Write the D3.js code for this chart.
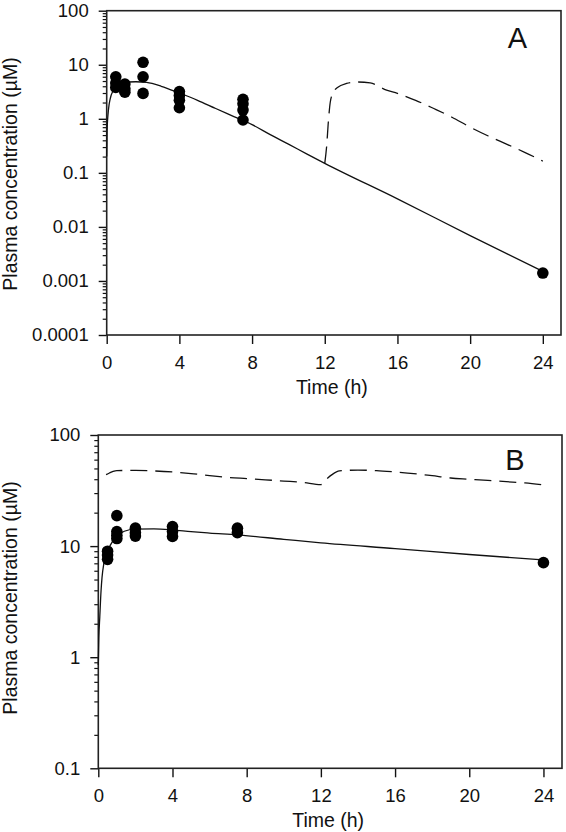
<!DOCTYPE html>
<html>
<head>
<meta charset="utf-8">
<script src="https://cdn.jsdelivr.net/npm/d3@7"></script>
<style>
  html, body { margin: 0; padding: 0; background: #fff; }
  svg { display: block; }
  text { font-family: "Liberation Sans", Arial, sans-serif; fill: #111; }
</style>
</head>
<body>
<svg id="chart" width="566" height="832"></svg>
<script>
// ---------- Data ----------
const xTicks = [0, 4, 8, 12, 16, 20, 24];
const yTicksA = [0.0001, 0.001, 0.01, 0.1, 1, 10, 100];
const yTicksB = [0.1, 1, 10, 100];
const xLabel = "Time (h)";
const yLabel = "Plasma concentration (\u00B5M)";

// Panel A observed points
const obsTimeA  = [0.5, 0.5, 0.5, 1, 1, 1, 2, 2, 2, 4, 4, 4, 4, 7.5, 7.5, 7.5, 7.5, 24];
const obsValueA = [6.0, 4.6, 3.8, 4.4, 3.6, 3.1, 11.1, 6.0, 2.95, 3.2, 2.7, 2.2, 1.6, 2.3, 1.9, 1.45, 0.95, 0.0014];

// Panel A model (solid: single dose)
const solidTimeA  = [0, 0.02, 0.1, 0.2, 0.35, 0.5, 0.8, 1.2, 1.6, 2.2, 3, 4, 5, 6, 7, 8, 9, 10, 11, 12, 16, 20, 24];
const solidValueA = [0.2, 0.6, 1.5, 2.4, 3.3, 3.9, 4.5, 4.8, 4.85, 4.7, 4.0, 3.0, 2.2, 1.55, 1.1, 0.78, 0.51, 0.34, 0.225, 0.15, 0.033, 0.0069, 0.0015];

// Panel A model (dashed: second dose at 12 h)
const dashTimeA  = [12, 12.1, 12.2, 12.3, 12.45, 12.7, 13.2, 13.8, 14.5, 15.4, 16, 17, 18, 19, 20, 21, 22, 23, 24];
const dashValueA = [0.15, 0.3, 0.9, 2.0, 3.0, 3.8, 4.5, 4.8, 4.6, 3.4, 2.95, 2.2, 1.55, 1.07, 0.7, 0.48, 0.34, 0.24, 0.165];

// Panel B observed points
const obsTimeB  = [0.5, 0.5, 0.5, 1, 1, 1, 1, 2, 2, 2, 4, 4, 4, 7.5, 7.5, 24];
const obsValueB = [9.0, 8.3, 7.6, 18.8, 13.5, 12.5, 11.7, 14.5, 13.2, 12.3, 15.0, 13.5, 12.2, 14.5, 13.2, 7.1];

// Panel B model (solid)
const solidTimeB  = [0, 0.03, 0.08, 0.15, 0.2, 0.3, 0.45, 0.65, 1, 1.4, 2, 3, 4, 5, 6, 7.5, 10, 12, 16, 20, 24];
const solidValueB = [0.85, 1.5, 2.3, 4.0, 5.2, 7.0, 8.5, 10.2, 12.2, 13.6, 14.2, 14.3, 14.0, 13.5, 13.1, 12.6, 11.5, 10.7, 9.5, 8.4, 7.5];

// Panel B model (dashed)
const dashTimeB  = [0.42, 0.6, 0.8, 1, 2, 3, 4, 5, 6, 7, 8, 9, 10, 11, 12, 12.3, 12.6, 13, 14, 15, 16, 17, 18, 19, 20, 21, 22, 23, 24];
const dashValueB = [44, 45.5, 47, 47.8, 48, 47.5, 46.5, 45, 43, 41.5, 40.5, 39.5, 38.5, 37.5, 35.8, 40, 44, 47.5, 48.3, 47.8, 46.5, 45, 43, 41, 40, 39, 38, 37, 35.5];

// ---------- Drawing ----------
const svg = d3.select("#chart");
const INK = "#111";

function zip(t, v) { return t.map((d, i) => ({ t: d, v: v[i] })); }

function panel(cfg) {
  const x = d3.scaleLinear().domain([0, 25]).range([cfg.left, cfg.right]);
  const y = d3.scaleLog().domain(cfg.yDomain).range([cfg.bottom, cfg.top]);
  const g = svg.append("g");

  // minor y ticks
  const minor = y.ticks(20).filter(d => !cfg.yTicks.includes(d));
  g.append("g")
    .attr("transform", `translate(${cfg.left},0)`)
    .call(d3.axisLeft(y).tickValues(minor).tickSize(4).tickFormat(""))
    .call(s => s.select(".domain").remove())
    .call(s => s.selectAll("line").attr("stroke", INK).attr("stroke-width", 1.2));

  // major y ticks
  g.append("g")
    .attr("transform", `translate(${cfg.left},0)`)
    .call(d3.axisLeft(y).tickValues(cfg.yTicks).tickSize(8).tickSizeOuter(0).tickPadding(10).tickFormat(d => String(d)))
    .call(s => s.select(".domain").remove())
    .call(s => s.selectAll("line").attr("stroke", INK).attr("stroke-width", 1.4))
    .call(s => s.selectAll("text").attr("font-size", "18.5px").attr("fill", INK)
      .style("font-family", '"Liberation Sans", Arial, sans-serif'));

  // x ticks
  g.append("g")
    .attr("transform", `translate(0,${cfg.bottom})`)
    .call(d3.axisBottom(x).tickValues(xTicks).tickSize(9).tickSizeOuter(0).tickPadding(12).tickFormat(d => String(d)))
    .call(s => s.select(".domain").remove())
    .call(s => s.selectAll("line").attr("stroke", INK).attr("stroke-width", 1.4))
    .call(s => s.selectAll("text").attr("font-size", "18.5px").attr("fill", INK)
      .style("font-family", '"Liberation Sans", Arial, sans-serif'));

  // frame
  g.append("rect")
    .attr("x", cfg.left).attr("y", cfg.top)
    .attr("width", cfg.right - cfg.left).attr("height", cfg.bottom - cfg.top)
    .attr("fill", "none").attr("stroke", "#222").attr("stroke-width", 1.6);

  const line = d3.line().x(d => x(d.t)).y(d => y(d.v)).curve(d3.curveMonotoneX);

  g.append("path").datum(zip(cfg.solidT, cfg.solidV))
    .attr("d", line).attr("fill", "none").attr("stroke", INK).attr("stroke-width", 1.3);

  g.append("path").datum(zip(cfg.dashT, cfg.dashV))
    .attr("d", line).attr("fill", "none").attr("stroke", INK).attr("stroke-width", 1.3)
    .attr("stroke-dasharray", "17,8");

  g.append("g").selectAll("circle").data(zip(cfg.obsT, cfg.obsV)).join("circle")
    .attr("cx", d => x(d.t)).attr("cy", d => y(d.v)).attr("r", 5.8).attr("fill", "#000");

  // panel letter
  g.append("text").attr("x", cfg.letterX).attr("y", cfg.letterY)
    .attr("text-anchor", "middle").attr("font-size", "29px").text(cfg.letter);

  // axis titles
  g.append("text").attr("x", (cfg.left + cfg.right) / 2 - 2).attr("y", cfg.bottom + 59)
    .attr("text-anchor", "middle").attr("font-size", "19.5px").text(xLabel);

  g.append("text")
    .attr("transform", `translate(17,${cfg.yLabelY}) rotate(-90)`)
    .attr("text-anchor", "middle").attr("font-size", "19.5px").text(yLabel);
}

panel({
  left: 106.7, right: 561, top: 10.7, bottom: 335,
  yDomain: [0.0001, 100], yTicks: yTicksA,
  obsT: obsTimeA, obsV: obsValueA,
  solidT: solidTimeA, solidV: solidValueA,
  dashT: dashTimeA, dashV: dashValueA,
  letter: "A", letterX: 517.5, letterY: 48.3, yLabelY: 174
});

panel({
  left: 98.3, right: 562, top: 435, bottom: 768.3,
  yDomain: [0.1, 100], yTicks: yTicksB,
  obsT: obsTimeB, obsV: obsValueB,
  solidT: solidTimeB, solidV: solidValueB,
  dashT: dashTimeB, dashV: dashValueB,
  letter: "B", letterX: 515, letterY: 470, yLabelY: 598
});
</script>
</body>
</html>
